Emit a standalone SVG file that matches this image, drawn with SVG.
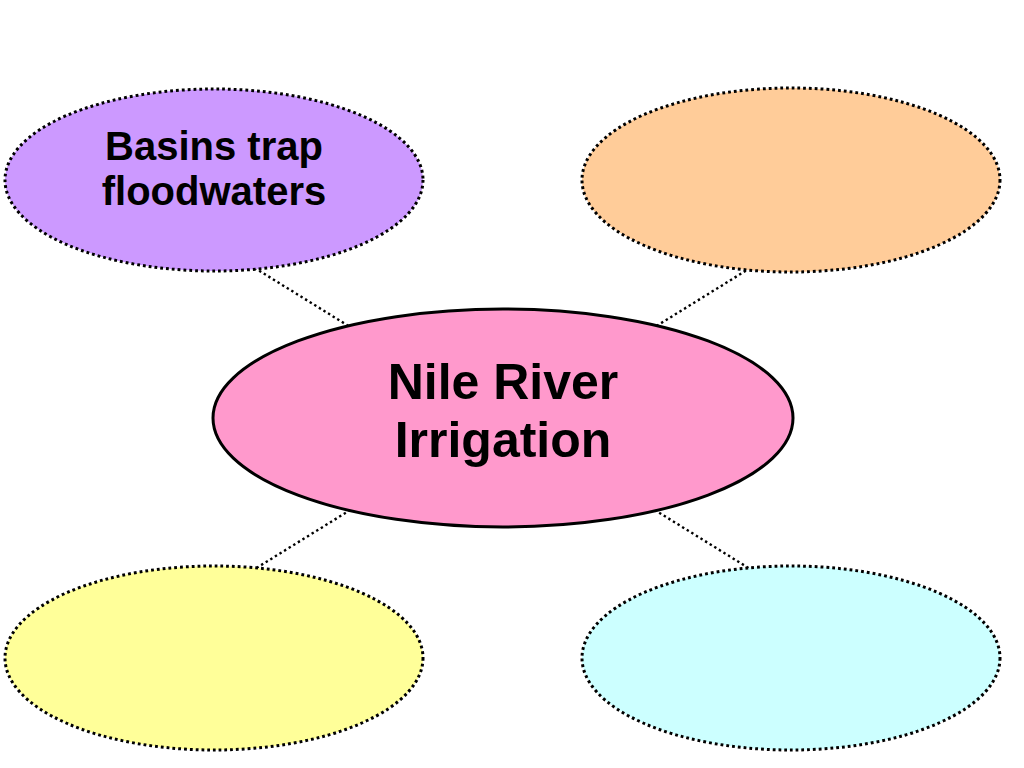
<svg xmlns="http://www.w3.org/2000/svg" width="1024" height="768" viewBox="0 0 1024 768">
<style>
.sat{stroke:#000;stroke-width:3;stroke-dasharray:2.8 3}
.conn{stroke:#000;stroke-width:2.4;stroke-dasharray:2.4 3;fill:none}
.lbl{font-family:"Liberation Sans",Arial,sans-serif;font-weight:bold;fill:#000;text-anchor:middle}
</style>
<rect width="1024" height="768" fill="#fff"/>
<g id="connectors">
<line class="conn" x1="250" y1="265" x2="355" y2="330"/>
<line class="conn" x1="755" y1="265" x2="650" y2="330"/>
<line class="conn" x1="355" y1="507" x2="250" y2="572"/>
<line class="conn" x1="650" y1="507" x2="755" y2="572"/>
</g>
<g id="node-basins">
<ellipse class="sat" cx="214" cy="180" rx="209" ry="91" fill="#CC99FF"/>
<text class="lbl" x="214" y="160" font-size="40">Basins trap</text>
<text class="lbl" x="214" y="205" font-size="40">floodwaters</text>
</g>
<g id="node-top-right">
<ellipse class="sat" cx="791" cy="180" rx="209" ry="92" fill="#FFCC99"/>
</g>
<g id="node-bottom-left">
<ellipse class="sat" cx="214" cy="658" rx="209" ry="92" fill="#FFFF99"/>
</g>
<g id="node-bottom-right">
<ellipse class="sat" cx="791" cy="658" rx="209" ry="92" fill="#CCFFFF"/>
</g>
<g id="node-center">
<ellipse cx="503" cy="418" rx="290" ry="109" fill="#FF99CC" stroke="#000" stroke-width="3"/>
<text class="lbl" x="503" y="399" font-size="50">Nile River</text>
<text class="lbl" x="503" y="457" font-size="50">Irrigation</text>
</g>
</svg>
